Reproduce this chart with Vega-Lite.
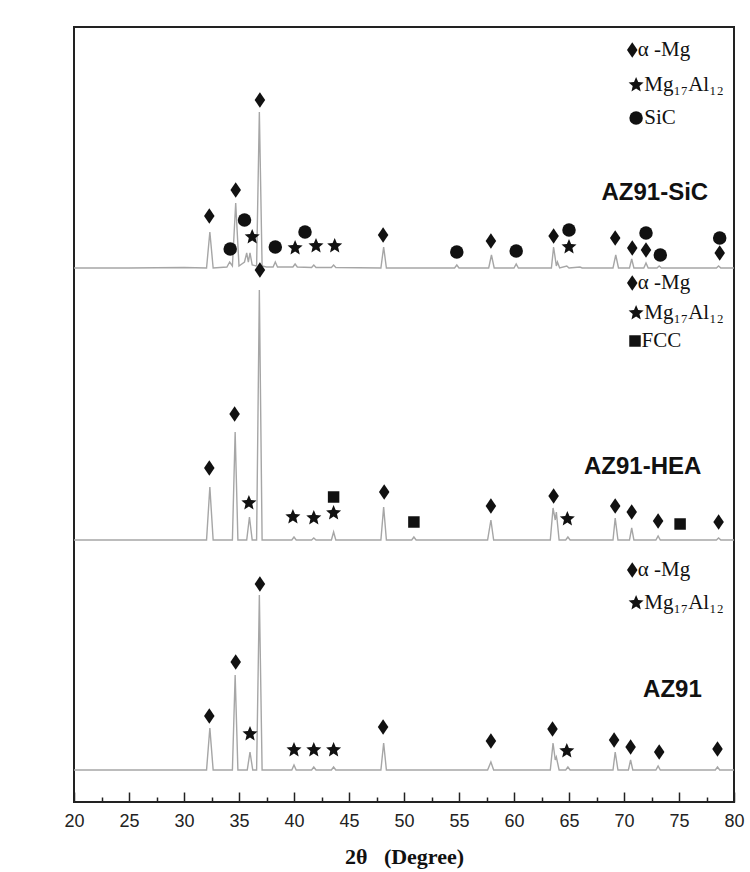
{
  "$schema": "https://vega.github.io/schema/vega-lite/v6.json",
  "width": 660,
  "height": 775,
  "autosize": {"type": "none"},
  "padding": {"left": 74, "top": 27, "right": 16, "bottom": 70},
  "background": "white",
  "config": {"view": {"stroke": "#222", "strokeWidth": 2}},
  "resolve": {"axis": {"x": "independent"}},
  "datasets": {
    "traces": [
      {"s":"SiC","deg":20,"v":534},{"s":"SiC","deg":25,"v":534},{"s":"SiC","deg":30,"v":534.5},{"s":"SiC","deg":32.05,"v":534},{"s":"SiC","deg":32.35,"v":570},{"s":"SiC","deg":32.65,"v":534},{"s":"SiC","deg":33.9,"v":535},{"s":"SiC","deg":34.15,"v":540},{"s":"SiC","deg":34.4,"v":536},{"s":"SiC","deg":34.7,"v":599},{"s":"SiC","deg":35.0,"v":536},{"s":"SiC","deg":35.5,"v":540},{"s":"SiC","deg":35.7,"v":549},{"s":"SiC","deg":35.85,"v":540},{"s":"SiC","deg":36.0,"v":549},{"s":"SiC","deg":36.2,"v":537},{"s":"SiC","deg":36.6,"v":536},{"s":"SiC","deg":36.85,"v":690},{"s":"SiC","deg":37.1,"v":536},{"s":"SiC","deg":37.5,"v":535},{"s":"SiC","deg":38.1,"v":535},{"s":"SiC","deg":38.3,"v":540},{"s":"SiC","deg":38.5,"v":535},{"s":"SiC","deg":39.9,"v":535},{"s":"SiC","deg":40.1,"v":538},{"s":"SiC","deg":40.3,"v":535},{"s":"SiC","deg":41.6,"v":534.5},{"s":"SiC","deg":41.8,"v":537},{"s":"SiC","deg":42.0,"v":534.5},{"s":"SiC","deg":43.4,"v":534.5},{"s":"SiC","deg":43.6,"v":537},{"s":"SiC","deg":43.8,"v":534.5},{"s":"SiC","deg":47.9,"v":534},{"s":"SiC","deg":48.15,"v":555},{"s":"SiC","deg":48.4,"v":534},{"s":"SiC","deg":54.6,"v":534},{"s":"SiC","deg":54.8,"v":537},{"s":"SiC","deg":55.0,"v":534},{"s":"SiC","deg":57.7,"v":534},{"s":"SiC","deg":57.95,"v":547},{"s":"SiC","deg":58.2,"v":534},{"s":"SiC","deg":60.0,"v":534},{"s":"SiC","deg":60.2,"v":538},{"s":"SiC","deg":60.4,"v":534},{"s":"SiC","deg":63.4,"v":534},{"s":"SiC","deg":63.6,"v":555},{"s":"SiC","deg":63.85,"v":536},{"s":"SiC","deg":63.95,"v":540},{"s":"SiC","deg":64.15,"v":534},{"s":"SiC","deg":64.8,"v":536},{"s":"SiC","deg":65.0,"v":534},{"s":"SiC","deg":66.0,"v":535},{"s":"SiC","deg":66.2,"v":534},{"s":"SiC","deg":69.0,"v":534},{"s":"SiC","deg":69.25,"v":547},{"s":"SiC","deg":69.5,"v":534},{"s":"SiC","deg":70.5,"v":534},{"s":"SiC","deg":70.7,"v":543},{"s":"SiC","deg":70.9,"v":534},{"s":"SiC","deg":71.8,"v":534},{"s":"SiC","deg":72.0,"v":539},{"s":"SiC","deg":72.2,"v":534},{"s":"SiC","deg":73.0,"v":534},{"s":"SiC","deg":73.2,"v":536},{"s":"SiC","deg":73.4,"v":534},{"s":"SiC","deg":78.4,"v":534},{"s":"SiC","deg":78.6,"v":536},{"s":"SiC","deg":78.8,"v":534},{"s":"SiC","deg":80,"v":534},
      {"s":"HEA","deg":20,"v":262},{"s":"HEA","deg":32.05,"v":262},{"s":"HEA","deg":32.35,"v":315},{"s":"HEA","deg":32.65,"v":262},{"s":"HEA","deg":34.4,"v":262},{"s":"HEA","deg":34.65,"v":370},{"s":"HEA","deg":34.9,"v":262},{"s":"HEA","deg":35.7,"v":262},{"s":"HEA","deg":35.95,"v":285},{"s":"HEA","deg":36.2,"v":262},{"s":"HEA","deg":36.6,"v":262},{"s":"HEA","deg":36.85,"v":512},{"s":"HEA","deg":37.1,"v":262},{"s":"HEA","deg":39.8,"v":262},{"s":"HEA","deg":40.0,"v":265},{"s":"HEA","deg":40.2,"v":262},{"s":"HEA","deg":41.6,"v":262},{"s":"HEA","deg":41.8,"v":264},{"s":"HEA","deg":42.0,"v":262},{"s":"HEA","deg":43.4,"v":262},{"s":"HEA","deg":43.6,"v":270},{"s":"HEA","deg":43.8,"v":262},{"s":"HEA","deg":47.9,"v":262},{"s":"HEA","deg":48.15,"v":295},{"s":"HEA","deg":48.4,"v":262},{"s":"HEA","deg":50.7,"v":262},{"s":"HEA","deg":50.9,"v":265},{"s":"HEA","deg":51.1,"v":262},{"s":"HEA","deg":57.6,"v":262},{"s":"HEA","deg":57.9,"v":282},{"s":"HEA","deg":58.15,"v":262},{"s":"HEA","deg":63.3,"v":262},{"s":"HEA","deg":63.55,"v":294},{"s":"HEA","deg":63.75,"v":282},{"s":"HEA","deg":63.85,"v":290},{"s":"HEA","deg":64.1,"v":262},{"s":"HEA","deg":64.7,"v":262},{"s":"HEA","deg":64.9,"v":265},{"s":"HEA","deg":65.1,"v":262},{"s":"HEA","deg":69.0,"v":262},{"s":"HEA","deg":69.2,"v":284},{"s":"HEA","deg":69.45,"v":262},{"s":"HEA","deg":70.5,"v":262},{"s":"HEA","deg":70.7,"v":274},{"s":"HEA","deg":70.9,"v":262},{"s":"HEA","deg":72.9,"v":262},{"s":"HEA","deg":73.1,"v":266},{"s":"HEA","deg":73.3,"v":262},{"s":"HEA","deg":78.4,"v":262},{"s":"HEA","deg":78.6,"v":264},{"s":"HEA","deg":78.8,"v":262},{"s":"HEA","deg":80,"v":262},
      {"s":"AZ91","deg":20,"v":32},{"s":"AZ91","deg":32.05,"v":32},{"s":"AZ91","deg":32.35,"v":74},{"s":"AZ91","deg":32.65,"v":32},{"s":"AZ91","deg":34.4,"v":32},{"s":"AZ91","deg":34.65,"v":127},{"s":"AZ91","deg":34.9,"v":32},{"s":"AZ91","deg":35.75,"v":32},{"s":"AZ91","deg":36.0,"v":50},{"s":"AZ91","deg":36.25,"v":32},{"s":"AZ91","deg":36.6,"v":32},{"s":"AZ91","deg":36.85,"v":207},{"s":"AZ91","deg":37.1,"v":32},{"s":"AZ91","deg":39.8,"v":32},{"s":"AZ91","deg":40.0,"v":37},{"s":"AZ91","deg":40.2,"v":32},{"s":"AZ91","deg":41.6,"v":32},{"s":"AZ91","deg":41.8,"v":35},{"s":"AZ91","deg":42.0,"v":32},{"s":"AZ91","deg":43.4,"v":32},{"s":"AZ91","deg":43.6,"v":35},{"s":"AZ91","deg":43.8,"v":32},{"s":"AZ91","deg":47.9,"v":32},{"s":"AZ91","deg":48.15,"v":59},{"s":"AZ91","deg":48.4,"v":32},{"s":"AZ91","deg":57.6,"v":32},{"s":"AZ91","deg":57.9,"v":40},{"s":"AZ91","deg":58.15,"v":32},{"s":"AZ91","deg":63.3,"v":32},{"s":"AZ91","deg":63.55,"v":59},{"s":"AZ91","deg":63.75,"v":42},{"s":"AZ91","deg":63.85,"v":45},{"s":"AZ91","deg":64.1,"v":32},{"s":"AZ91","deg":64.7,"v":32},{"s":"AZ91","deg":64.9,"v":35},{"s":"AZ91","deg":65.1,"v":32},{"s":"AZ91","deg":69.0,"v":32},{"s":"AZ91","deg":69.2,"v":50},{"s":"AZ91","deg":69.45,"v":32},{"s":"AZ91","deg":70.4,"v":32},{"s":"AZ91","deg":70.6,"v":42},{"s":"AZ91","deg":70.8,"v":32},{"s":"AZ91","deg":72.9,"v":32},{"s":"AZ91","deg":73.1,"v":36},{"s":"AZ91","deg":73.3,"v":32},{"s":"AZ91","deg":78.3,"v":32},{"s":"AZ91","deg":78.5,"v":35},{"s":"AZ91","deg":78.7,"v":32},{"s":"AZ91","deg":80,"v":32}
    ],
    "markers": [
      {"p":"Mg","deg":32.3,"v":586},{"p":"SiC","deg":34.2,"v":553},{"p":"Mg","deg":34.7,"v":612},{"p":"SiC","deg":35.5,"v":582},{"p":"MgAl","deg":36.2,"v":565},{"p":"Mg","deg":36.9,"v":702},{"p":"SiC","deg":38.3,"v":555},{"p":"MgAl","deg":40.1,"v":554},{"p":"SiC","deg":41.0,"v":570},{"p":"MgAl","deg":42.0,"v":556},{"p":"MgAl","deg":43.7,"v":556},{"p":"Mg","deg":48.1,"v":567},{"p":"SiC","deg":54.8,"v":550},{"p":"Mg","deg":57.9,"v":561},{"p":"SiC","deg":60.2,"v":551},{"p":"Mg","deg":63.6,"v":566},{"p":"SiC","deg":65.0,"v":572},{"p":"MgAl","deg":65.0,"v":555},{"p":"Mg","deg":69.2,"v":564},{"p":"Mg","deg":70.75,"v":554},{"p":"SiC","deg":72.0,"v":569},{"p":"Mg","deg":72.0,"v":552},{"p":"SiC","deg":73.3,"v":547},{"p":"SiC","deg":78.7,"v":564},{"p":"Mg","deg":78.7,"v":549},
      {"p":"Mg","deg":32.3,"v":334},{"p":"Mg","deg":34.6,"v":388},{"p":"MgAl","deg":35.9,"v":299},{"p":"Mg","deg":36.9,"v":532},{"p":"MgAl","deg":39.9,"v":285},{"p":"MgAl","deg":41.8,"v":284},{"p":"MgAl","deg":43.6,"v":289},{"p":"FCC","deg":43.6,"v":305},{"p":"Mg","deg":48.2,"v":310},{"p":"FCC","deg":50.9,"v":280},{"p":"Mg","deg":57.9,"v":296},{"p":"Mg","deg":63.6,"v":306},{"p":"MgAl","deg":64.85,"v":283},{"p":"Mg","deg":69.2,"v":296},{"p":"Mg","deg":70.7,"v":290},{"p":"Mg","deg":73.1,"v":281},{"p":"FCC","deg":75.1,"v":278},{"p":"Mg","deg":78.6,"v":280},
      {"p":"Mg","deg":32.3,"v":86},{"p":"Mg","deg":34.7,"v":140},{"p":"MgAl","deg":36.0,"v":68},{"p":"Mg","deg":36.9,"v":218},{"p":"MgAl","deg":40.0,"v":52},{"p":"MgAl","deg":41.8,"v":52},{"p":"MgAl","deg":43.6,"v":52},{"p":"Mg","deg":48.1,"v":75},{"p":"Mg","deg":57.9,"v":61},{"p":"Mg","deg":63.5,"v":73},{"p":"MgAl","deg":64.8,"v":51},{"p":"Mg","deg":69.1,"v":62},{"p":"Mg","deg":70.6,"v":55},{"p":"Mg","deg":73.2,"v":50},{"p":"Mg","deg":78.5,"v":53},
      {"p":"Mg","deg":70.75,"v":752},{"p":"MgAl","deg":71.1,"v":717},{"p":"SiC","deg":71.1,"v":684},
      {"p":"Mg","deg":70.75,"v":519},{"p":"MgAl","deg":71.1,"v":489},{"p":"FCC","deg":71.0,"v":461},
      {"p":"Mg","deg":70.75,"v":232},{"p":"MgAl","deg":71.1,"v":199}
    ],
    "labels": [
      {"t":"AZ91-SiC","deg":72.8,"v":609},
      {"t":"AZ91-HEA","deg":71.7,"v":335},
      {"t":"AZ91","deg":74.4,"v":112}
    ],
    "legendText": [
      {"t":"α -Mg","deg":71.25,"v":752},{"t":"Mg₁₇Al₁₂","deg":71.85,"v":717},{"t":"SiC","deg":71.85,"v":684},
      {"t":"α -Mg","deg":71.25,"v":519},{"t":"Mg₁₇Al₁₂","deg":71.85,"v":489},{"t":"FCC","deg":71.6,"v":461},
      {"t":"α -Mg","deg":71.25,"v":232},{"t":"Mg₁₇Al₁₂","deg":71.85,"v":199}
    ]
  },
  "layer": [
    {
      "data": {"name": "traces"},
      "mark": {"type": "line", "color": "#a6a6a6", "strokeWidth": 1.4, "clip": true},
      "encoding": {
        "x": {"field": "deg", "type": "quantitative",
          "scale": {"domain": [20, 80], "nice": false, "zero": false},
          "axis": {
            "orient": "bottom",
            "title": "2θ\u00a0\u00a0\u00a0(Degree)",
            "values": [20,25,30,35,40,45,50,55,60,65,70,75,80],
            "tickSize": -10,
            "tickColor": "#222", "tickWidth": 1.5,
            "domain": false, "grid": false,
            "labelOverlap": false, "labelBound": false, "labelFlush": false,
            "labelFont": "Liberation Sans", "labelFontSize": 18, "labelColor": "#222", "labelPadding": 20,
            "titleFont": "Liberation Serif", "titleFontWeight": "bold", "titleFontSize": 22, "titleColor": "#111", "titlePadding": 16
          }
        },
        "y": {"field": "v", "type": "quantitative",
          "scale": {"domain": [0, 775], "nice": false, "zero": false},
          "axis": {"title": "Intensity (a.u.)", "labels": false, "ticks": false, "domain": false, "grid": false,
            "titleFont": "Liberation Serif", "titleFontWeight": "bold", "titleFontSize": 22, "titleColor": "#111", "titlePadding": 33}
        },
        "detail": {"field": "s"}
      }
    },
    {
      "data": {"name": "markers"},
      "mark": {"type": "point", "filled": true, "color": "#111", "opacity": 1, "strokeWidth": 0},
      "encoding": {
        "x": {"field": "deg", "type": "quantitative",
          "axis": {
            "orient": "bottom", "title": null, "labels": false, "domain": false, "grid": false,
            "values": [22.5,27.5,32.5,37.5,42.5,47.5,52.5,57.5,62.5,67.5,72.5,77.5],
            "tickSize": -5, "tickColor": "#222", "tickWidth": 1.5
          }
        },
        "y": {"field": "v", "type": "quantitative", "axis": null},
        "shape": {"field": "p", "type": "nominal",
          "scale": {"domain": ["Mg","MgAl","SiC","FCC"],
            "range": ["M0,-1L0.68,0L0,1L-0.68,0Z", "M0,-1L0.265,-0.364L0.951,-0.309L0.428,0.139L0.588,0.809L0,0.45L-0.588,0.809L-0.428,0.139L-0.951,-0.309L-0.265,-0.364Z", "circle", "square"]},
          "legend": null},
        "size": {"field": "p", "type": "nominal",
          "scale": {"type": "ordinal", "domain": ["Mg","MgAl","SiC","FCC"], "range": [240, 250, 182, 132]},
          "legend": null}
      }
    },
    {
      "data": {"name": "labels"},
      "mark": {"type": "text", "font": "Liberation Sans", "fontWeight": "bold", "fontSize": 24, "align": "center", "baseline": "middle", "color": "#111"},
      "encoding": {
        "x": {"field": "deg", "type": "quantitative", "axis": null},
        "y": {"field": "v", "type": "quantitative", "axis": null},
        "text": {"field": "t"}
      }
    },
    {
      "data": {"name": "legendText"},
      "mark": {"type": "text", "font": "Liberation Serif", "fontSize": 21, "align": "left", "baseline": "middle", "color": "#111"},
      "encoding": {
        "x": {"field": "deg", "type": "quantitative", "axis": null},
        "y": {"field": "v", "type": "quantitative", "axis": null},
        "text": {"field": "t"}
      }
    }
  ]
}
